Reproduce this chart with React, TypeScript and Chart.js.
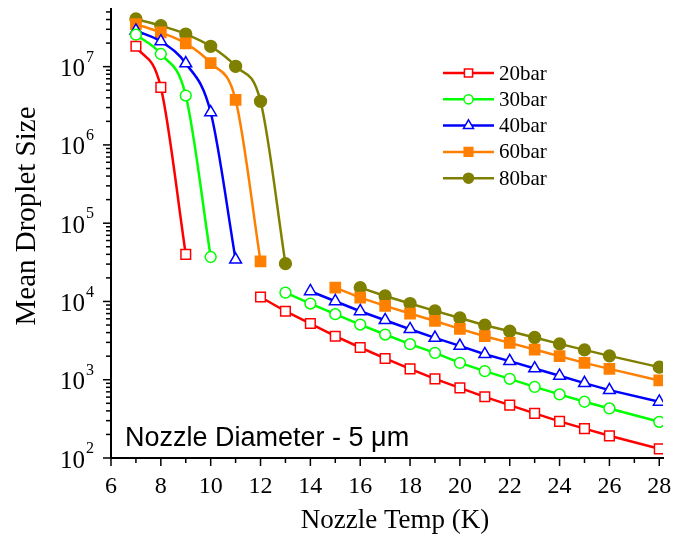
import React, { useEffect, useRef } from 'react';
import { Chart, registerables } from 'chart.js';

Chart.register(...registerables);

// Nozzle temperature (K); 27 K was not measured
const temps = [7, 8, 9, 10, 11, 12, 13, 14, 15, 16, 17, 18, 19, 20, 21, 22, 23, 24, 25, 26, 28];

const bar20 = [1.82e7, 5.44e6, 4.0e4, null, null, 11400, 7500, 5220, 3600, 2580, 1870, 1377, 1027, 788, 605, 474, 372, 294, 237, 192, 131];
const bar30 = [2.56e7, 1.45e7, 4.27e6, 37000, null, null, 12980, 9400, 6870, 5070, 3780, 2845, 2204, 1643, 1288, 1027, 811, 649, 523, 430, 290];
const bar40 = [2.88e7, 2.1e7, 1.1e7, 2.61e6, 34200, null, null, 13490, 10060, 7500, 5760, 4420, 3425, 2705, 2120, 1727, 1393, 1122, 905, 737, 523];
const bar60 = [3.5e7, 2.74e7, 1.98e7, 1.11e7, 3.76e6, 32600, null, null, 15040, 11210, 8770, 7010, 5640, 4460, 3600, 2960, 2430, 2000, 1643, 1377, 980];
const bar80 = [4.06e7, 3.33e7, 2.61e7, 1.82e7, 1.01e7, 3.61e6, 30400, null, null, 15040, 11750, 9400, 7570, 6160, 4970, 4170, 3465, 2870, 2405, 2018, 1448];

const seriesLabels = ['20bar', '30bar', '40bar', '60bar', '80bar'];
const seriesValues = [bar20, bar30, bar40, bar60, bar80];

const xTickLabels = [6, 8, 10, 12, 14, 16, 18, 20, 22, 24, 26, 28];
const yTickExponents = [2, 3, 4, 5, 6, 7];

const xTitle = 'Nozzle Temp (K)';
const yTitle = 'Mean Droplet Size';
const note = 'Nozzle Diameter - 5 \u03bcm';

type Style = { color: string; shape: 'rect' | 'circle' | 'triangle'; radius: number; filled: boolean };
const styles: Style[] = [
  { color: '#ff0000', shape: 'rect', radius: 6.8, filled: false },
  { color: '#00ff00', shape: 'circle', radius: 5.4, filled: false },
  { color: '#0000ff', shape: 'triangle', radius: 6.8, filled: false },
  { color: '#ff8000', shape: 'rect', radius: 7.2, filled: true },
  { color: '#808000', shape: 'circle', radius: 5.9, filled: true },
];

function split(vals: (number | null)[]) {
  const firstNull = vals.indexOf(null);
  let resume = firstNull;
  while (vals[resume] === null) resume++;
  const high = temps.slice(0, firstNull).map((t, i) => ({ x: t, y: vals[i] as number }));
  const low = temps.slice(resume).map((t, i) => ({ x: t, y: vals[resume + i] as number }));
  return { high, low };
}

function drawMarker(ctx: CanvasRenderingContext2D, s: Style, x: number, y: number, r: number) {
  ctx.beginPath();
  if (s.shape === 'rect') {
    const h = r * Math.SQRT1_2;
    ctx.rect(x - h, y - h, 2 * h, 2 * h);
  } else if (s.shape === 'circle') {
    ctx.arc(x, y, r, 0, Math.PI * 2);
  } else {
    for (let k = 0; k < 3; k++) {
      const a = (k * 2 * Math.PI) / 3;
      const px = x + Math.sin(a) * r;
      const py = y - Math.cos(a) * r;
      if (k === 0) ctx.moveTo(px, py);
      else ctx.lineTo(px, py);
    }
    ctx.closePath();
  }
  ctx.fillStyle = s.filled ? s.color : '#ffffff';
  ctx.fill();
  ctx.lineWidth = 1.5;
  ctx.strokeStyle = s.color;
  ctx.stroke();
}

const decorPlugin = {
  id: 'decor',
  afterDraw(chart: any) {
    const ctx: CanvasRenderingContext2D = chart.ctx;
    const xs = chart.scales.x;
    const ys = chart.scales.y;
    const area = chart.chartArea;
    ctx.save();
    ctx.strokeStyle = '#000';
    ctx.lineWidth = 1.5;
    // x ticks
    for (let v = 6; v <= 28; v++) {
      const px = xs.getPixelForValue(v);
      const len = v % 2 === 0 ? 8 : 5;
      ctx.beginPath();
      ctx.moveTo(px, area.bottom);
      ctx.lineTo(px, area.bottom + len);
      ctx.stroke();
    }
    // y ticks
    for (const p of yTickExponents) {
      for (let m = 1; m <= 9; m++) {
        const v = m * Math.pow(10, p);
        if (v > ys.max) break;
        const py = ys.getPixelForValue(v);
        const len = m === 1 ? 8 : 5;
        ctx.beginPath();
        ctx.moveTo(area.left - len, py);
        ctx.lineTo(area.left, py);
        ctx.stroke();
      }
    }
    ctx.fillStyle = '#000';
    // x labels
    ctx.font = '24px "Liberation Serif"';
    ctx.textAlign = 'center';
    ctx.textBaseline = 'middle';
    for (const v of xTickLabels) {
      ctx.fillText(String(v), xs.getPixelForValue(v), 487);
    }
    // y labels
    for (const p of yTickExponents) {
      const py = ys.getPixelForValue(Math.pow(10, p));
      ctx.font = '25px "Liberation Serif"';
      ctx.textAlign = 'right';
      ctx.fillText('10', 85, py + 3);
      ctx.font = '16px "Liberation Serif"';
      ctx.textAlign = 'left';
      ctx.fillText(String(p), 86, py - 9);
    }
    // titles
    ctx.font = '27px "Liberation Serif"';
    ctx.textAlign = 'center';
    ctx.fillText(xTitle, 395, 521);
    ctx.save();
    ctx.font = '29px "Liberation Serif"';
    ctx.translate(27, 216);
    ctx.rotate(-Math.PI / 2);
    ctx.fillText(yTitle, 0, 0);
    ctx.restore();
    // annotation
    ctx.font = '27px "Liberation Sans"';
    ctx.textAlign = 'left';
    ctx.textBaseline = 'alphabetic';
    ctx.fillText(note, 125, 446);
    // legend
    ctx.font = '21px "Liberation Serif"';
    ctx.textBaseline = 'middle';
    seriesLabels.forEach((lab, i) => {
      const y = 73 + i * 26.3;
      const s = styles[i];
      ctx.strokeStyle = s.color;
      ctx.lineWidth = 2.5;
      ctx.beginPath();
      ctx.moveTo(443, y);
      ctx.lineTo(494, y);
      ctx.stroke();
      drawMarker(ctx, s, 468.5, y, s.radius * 0.85);
      ctx.fillStyle = '#000';
      ctx.fillText(lab, 499, y + 1);
    });
    ctx.restore();
  },
};

export default function App() {
  const ref = useRef<HTMLCanvasElement | null>(null);
  useEffect(() => {
    document.body.style.margin = '0';
    const canvas = ref.current;
    if (!canvas) return;
    const datasets: any[] = [];
    seriesValues.forEach((vals, i) => {
      const { high, low } = split(vals);
      const s = styles[i];
      const common = {
        borderColor: s.color,
        borderWidth: 2.5,
        pointStyle: s.shape,
        pointRadius: s.radius,
        pointBorderWidth: 1.5,
        pointBorderColor: s.color,
        pointBackgroundColor: s.filled ? s.color : '#ffffff',
        fill: false,
      };
      datasets.push({ label: seriesLabels[i], data: high, tension: 0.4, cubicInterpolationMode: 'monotone', ...common });
      datasets.push({ label: seriesLabels[i] + ' low', data: low, tension: 0, ...common });
    });
    const chart = new Chart(canvas, {
      type: 'line',
      data: { datasets },
      options: {
        animation: false,
        responsive: false,
        devicePixelRatio: 1,
        layout: { padding: { top: 8, right: 10, left: 0, bottom: 0 } },
        plugins: { legend: { display: false }, tooltip: { enabled: false } },
        scales: {
          x: {
            type: 'linear',
            min: 6,
            max: 28.15,
            grid: { display: false },
            border: { display: true, color: '#000', width: 2 },
            ticks: { display: false },
            afterFit: (s: any) => { s.height = 80; },
          },
          y: {
            type: 'logarithmic',
            min: 100,
            max: 5.5e7,
            grid: { display: false },
            border: { display: true, color: '#000', width: 2 },
            ticks: { display: false },
            afterFit: (s: any) => { s.width = 111; },
          },
        },
      },
      plugins: [decorPlugin],
    });
    return () => chart.destroy();
  }, []);
  return <canvas ref={ref} width={673} height={538} style={{ display: 'block' }} />;
}
